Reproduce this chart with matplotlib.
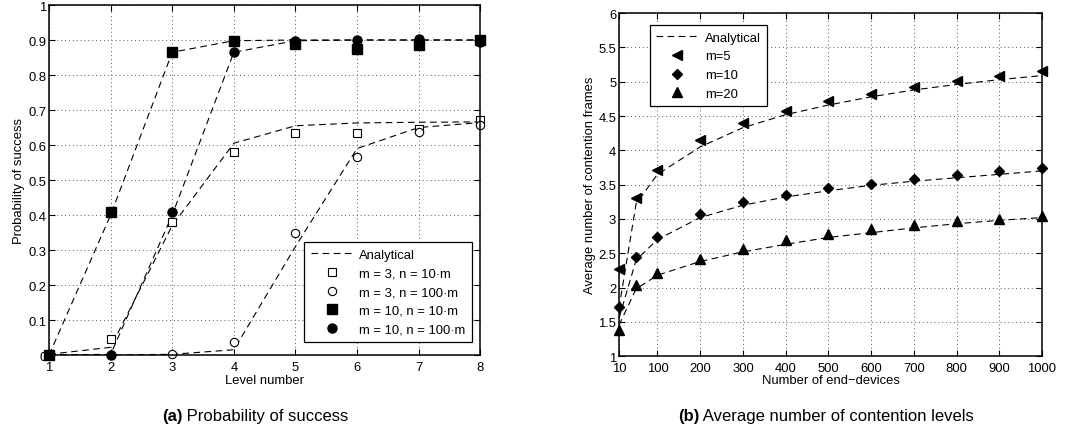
import numpy as np
import matplotlib
matplotlib.use('Agg')
import matplotlib.pyplot as plt

plt.rcParams['font.family'] = ['Liberation Sans', 'DejaVu Sans']

# (a) Probability of success vs level number
levels = [1, 2, 3, 4, 5, 6, 7, 8]
an_m3_n10 = [0.002, 0.022, 0.37, 0.605, 0.655, 0.663, 0.665, 0.666]
an_m3_n100 = [0.0, 0.0, 0.002, 0.015, 0.31, 0.59, 0.65, 0.664]
an_m10_n10 = [0.0, 0.40, 0.865, 0.898, 0.9, 0.9, 0.9, 0.9]
an_m10_n100 = [0.0, 0.002, 0.40, 0.865, 0.898, 0.9, 0.9, 0.9]
sim_m3_n10 = [0.0, 0.045, 0.38, 0.58, 0.635, 0.635, 0.645, 0.672]
sim_m3_n100 = [0.0, 0.0, 0.002, 0.037, 0.35, 0.565, 0.637, 0.657]
sim_m10_n10 = [0.0, 0.41, 0.865, 0.898, 0.89, 0.875, 0.885, 0.9]
sim_m10_n100 = [0.0, 0.0, 0.41, 0.867, 0.897, 0.9, 0.903, 0.893]

# (b) Average number of contention frames vs number of end-devices
devices = [10, 50, 100, 200, 300, 400, 500, 600, 700, 800, 900, 1000]
an_m5 = [1.7, 3.22, 3.65, 4.05, 4.33, 4.52, 4.66, 4.78, 4.88, 4.96, 5.03, 5.09]
an_m10 = [1.55, 2.4, 2.7, 3.02, 3.2, 3.32, 3.41, 3.49, 3.55, 3.6, 3.65, 3.7]
an_m20 = [1.45, 1.98, 2.18, 2.38, 2.52, 2.63, 2.73, 2.8, 2.87, 2.93, 2.98, 3.02]
sim_m5 = [2.27, 3.3, 3.71, 4.15, 4.4, 4.57, 4.72, 4.82, 4.92, 5.01, 5.08, 5.15]
sim_m10 = [1.71, 2.44, 2.74, 3.07, 3.24, 3.35, 3.45, 3.51, 3.58, 3.64, 3.7, 3.74]
sim_m20 = [1.38, 2.04, 2.21, 2.41, 2.56, 2.69, 2.78, 2.85, 2.91, 2.97, 3.0, 3.04]

fs = 9.4
dash = dict(color='black', lw=0.8, dashes=(6, 4))


def style_axes(ax):
    ax.grid(True, linestyle=(0, (1, 3)), color='0.35', lw=0.7)
    ax.tick_params(direction='in', top=True, right=True, labelsize=fs,
                   length=4, width=0.8, pad=2)
    ax.tick_params(axis='x', pad=4)
    for s in ax.spines.values():
        s.set_linewidth(1.1)


fig = plt.figure(figsize=(10.78, 4.35), dpi=100)

# ---- left panel
ax1 = fig.add_axes([0.0455, 0.1816, 0.4, 0.8046])
for y in [an_m3_n10, an_m3_n100, an_m10_n10, an_m10_n100]:
    ax1.plot(levels, y, **dash)
h_an, = ax1.plot([], [], **dash)
h1, = ax1.plot(levels, sim_m3_n10, 's', ms=6, mfc='white', mec='black', mew=0.8, ls='none', clip_on=False)
h2, = ax1.plot(levels, sim_m3_n100, 'o', ms=6, mfc='white', mec='black', mew=0.8, ls='none', clip_on=False)
h3, = ax1.plot(levels, sim_m10_n10, 's', ms=6.5, color='black', ls='none', clip_on=False)
h4, = ax1.plot(levels, sim_m10_n100, 'o', ms=6.5, color='black', ls='none', clip_on=False)
ax1.set_xlim(1, 8)
ax1.set_ylim(0, 1)
ax1.set_xticks(levels)
ax1.set_yticks(np.arange(0, 1.01, 0.1))
ax1.set_yticklabels(['0', '0.1', '0.2', '0.3', '0.4', '0.5', '0.6', '0.7', '0.8', '0.9', '1'])
ax1.set_xlabel('Level number', fontsize=fs, labelpad=1)
ax1.set_ylabel('Probability of success', fontsize=fs, labelpad=2)
style_axes(ax1)
leg1 = ax1.legend([h_an, h1, h2, h3, h4],
                  ['Analytical', 'm = 3, n = 10\u00b7m', 'm = 3, n = 100\u00b7m',
                   'm = 10, n = 10\u00b7m', 'm = 10, n = 100\u00b7m'],
                  loc='lower right', bbox_to_anchor=(0.981, 0.037), borderaxespad=0,
                  fontsize=fs, fancybox=False, edgecolor='black', framealpha=1,
                  handlelength=3.2, borderpad=0.5, labelspacing=0.5, handletextpad=0.5)
leg1.get_frame().set_linewidth(0.9)

# ---- right panel
ax2 = fig.add_axes([0.5742, 0.179, 0.3924, 0.7885])
for y in [an_m5, an_m10, an_m20]:
    ax2.plot(devices, y, **dash)
g_an, = ax2.plot([], [], **dash)
g1, = ax2.plot(devices, sim_m5, '<', ms=7.5, color='black', ls='none', clip_on=False)
g2, = ax2.plot(devices, sim_m10, 'D', ms=5.5, color='black', ls='none', clip_on=False)
g3, = ax2.plot(devices, sim_m20, '^', ms=7.5, color='black', ls='none', clip_on=False)
ax2.set_xlim(10, 1000)
ax2.set_ylim(1, 6)
ax2.set_xticks([10, 100, 200, 300, 400, 500, 600, 700, 800, 900, 1000])
ax2.set_yticks(np.arange(1, 6.01, 0.5))
ax2.set_yticklabels(['1', '1.5', '2', '2.5', '3', '3.5', '4', '4.5', '5', '5.5', '6'])
ax2.set_xlabel('Number of end\u2212devices', fontsize=fs, labelpad=0)
ax2.set_ylabel('Average number of contention frames', fontsize=fs, labelpad=2)
style_axes(ax2)
leg2 = ax2.legend([g_an, g1, g2, g3], ['Analytical', 'm=5', 'm=10', 'm=20'],
                  loc='upper left', bbox_to_anchor=(0.073, 0.965), borderaxespad=0,
                  fontsize=fs, fancybox=False, edgecolor='black', framealpha=1,
                  handlelength=3.2, borderpad=0.5, labelspacing=0.5, handletextpad=0.5)
leg2.get_frame().set_linewidth(0.9)

# ---- captions
for xc, tag, txt in [(0.150, '(a)', ' Probability of success'),
                     (0.629, '(b)', ' Average number of contention levels')]:
    t = fig.text(xc, 0.025, tag, fontsize=12, fontweight='bold', ha='left', va='bottom')
    ax1.annotate(txt, xy=(1, 0), xycoords=t, fontsize=12, ha='left', va='bottom',
                 annotation_clip=False)

plt.savefig('out.png', dpi=100)
